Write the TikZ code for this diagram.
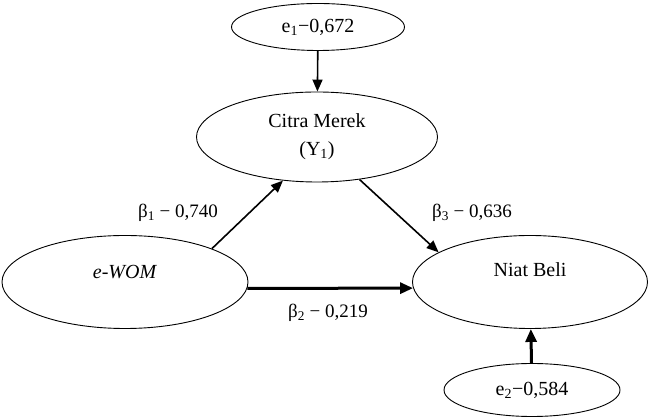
\documentclass[tikz,border=0pt]{standalone}
\usepackage{fontspec}
\setmainfont{Liberation Serif}
\usetikzlibrary{shapes.geometric, arrows.meta}
\tikzstyle{latent} = [ellipse, draw=black, line width=0.9pt, inner sep=0pt, align=center, font=\fontsize{20}{28}\selectfont]
\tikzstyle{errterm} = [ellipse, draw=black, line width=0.9pt, inner sep=0pt, minimum width=173pt, minimum height=47pt, font=\fontsize{20}{24}\selectfont]
\tikzstyle{txt} = [inner sep=0pt, font=\fontsize{20}{24}\selectfont]
\tikzstyle{coef} = [inner sep=0pt, font=\fontsize{19}{23}\selectfont]
\tikzstyle{arrow} = [line width=1.6pt,-{Triangle[length=12pt,width=10pt]}]
\tikzstyle{thickarrow} = [line width=3pt,-{Triangle[length=13pt,width=11pt]}]

\begin{document}
\begin{tikzpicture}[node distance=2cm]
    \useasboundingbox (-125pt,282pt) rectangle (525pt,-137pt);
    \node (wom) [latent, minimum width=246pt, minimum height=93pt] {};
    \node (womtxt) [txt, above of=wom, node distance=10pt] {\textit{e-WOM}};
    \node (niat) [latent, right of=wom, node distance=405pt, minimum width=235pt, minimum height=93pt] {};
    \node (niattxt) [txt, above of=niat, node distance=12pt] {Niat Beli};
    \node (citra) [latent, above of=wom, node distance=145pt, xshift=192pt, minimum width=241pt, minimum height=90pt] {Citra Merek\\(Y\textsubscript{1})};
    \node (e1) [errterm, above of=citra, node distance=110pt, xshift=1pt] {e\textsubscript{1}−0,672};
    \node (e2) [errterm, below of=niat, node distance=108pt, xshift=2pt, minimum width=176pt, minimum height=53pt] {e\textsubscript{2}−0,584};
    \node (b1) [coef, above of=wom, node distance=69pt, xshift=53pt] {β\textsubscript{1} − 0,740};
    \node (b3) [coef, above of=niat, node distance=69pt, xshift=-58pt] {β\textsubscript{3} − 0,636};
    \node (b2) [coef, below of=wom, node distance=31pt, xshift=203pt] {β\textsubscript{2} − 0,219};
    \draw [arrow] (e1) -- (citra);
    \draw [arrow] (wom.21) -- (citra.232);
    \draw [arrow] (citra.315) -- (niat.162);
    \draw [thickarrow] (wom.-3) -- (niat.183);
    \draw [thickarrow] (e2) -- (niat);
\end{tikzpicture}
\end{document}
